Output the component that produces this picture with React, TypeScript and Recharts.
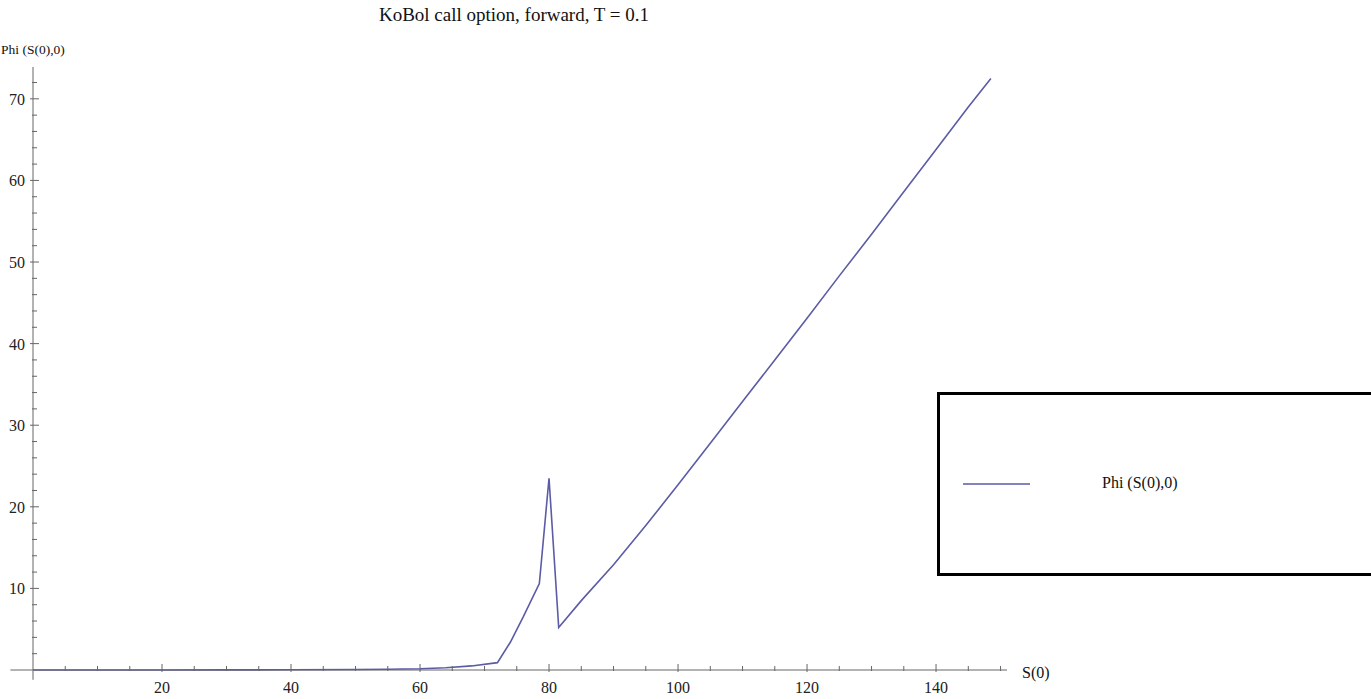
import React from "react";
import { LineChart, Line, XAxis, YAxis, ReferenceLine, Legend } from "recharts";

// S(0) sample points and the option value
const sValues = [
  0, 10, 20, 30, 40, 50, 55, 60, 64, 68, 72, 74, 76, 78.5, 80, 81.5, 85, 90,
  95, 100, 105, 110, 115, 120, 125, 130, 135, 140, 145, 148.5,
];
const phiValues = [
  0, 0, 0, 0.01, 0.03, 0.06, 0.1, 0.16, 0.28, 0.5, 0.9, 3.4, 6.5, 10.6, 23.5,
  5.2, 8.5, 12.9, 17.7, 22.7, 27.8, 32.9, 38.0, 43.1, 48.3, 53.4, 58.6, 63.8,
  69.0, 72.5,
];

const xTicks = [
  5, 10, 15, 20, 25, 30, 35, 40, 45, 50, 55, 60, 65, 70, 75, 80, 85, 90, 95,
  100, 105, 110, 115, 120, 125, 130, 135, 140, 145, 150,
];
const xLabels = [20, 40, 60, 80, 100, 120, 140];
const yTicks = [
  2, 4, 6, 8, 10, 12, 14, 16, 18, 20, 22, 24, 26, 28, 30, 32, 34, 36, 38, 40,
  42, 44, 46, 48, 50, 52, 54, 56, 58, 60, 62, 64, 66, 68, 70, 72,
];
const yLabels = [10, 20, 30, 40, 50, 60, 70];

const title = "KoBol call option, forward, T = 0.1";
const seriesName = "Phi (S(0),0)";

const data = sValues.map((s, i) => ({ s, phi: phiValues[i] }));

const FONT = "'Liberation Serif', 'DejaVu Serif', serif";
const AXIS = "#666";
const LINE = "#5b5ba6";

const XTick = (props: any) => {
  const { x, y, payload } = props;
  const major = xLabels.includes(payload.value);
  return (
    <g>
      <line x1={x} x2={x} y1={y - (major ? 6 : 4)} y2={y + (major ? 2 : 1)} stroke={AXIS} />
      {major && (
        <text x={x} y={y + 23} textAnchor="middle" fontFamily={FONT} fontSize={16} fill="#222">
          {payload.value}
        </text>
      )}
    </g>
  );
};

const YTick = (props: any) => {
  const { x, y, payload } = props;
  const major = yLabels.includes(payload.value);
  return (
    <g>
      <line x1={x - (major ? 3 : 1)} x2={x + (major ? 6 : 4)} y1={y} y2={y} stroke={AXIS} />
      {major && (
        <text x={x - 8} y={y + 6} textAnchor="end" fontFamily={FONT} fontSize={16} fill="#222">
          {payload.value}
        </text>
      )}
    </g>
  );
};

const renderLegend = (props: any) => {
  const item = props.payload && props.payload[0];
  return (
    <div
      style={{
        boxSizing: "border-box",
        width: 460,
        height: 184,
        border: "3px solid #000",
        background: "#fff",
        position: "relative",
      }}
    >
      <svg style={{ position: "absolute", left: 23, top: 87 }} width={70} height={4}>
        <line x1={0} x2={67} y1={2} y2={2} stroke={item ? item.color : LINE} strokeWidth={1.6} />
      </svg>
      <span
        style={{
          position: "absolute",
          left: 162,
          top: 79,
          fontFamily: FONT,
          fontSize: 16,
          lineHeight: "18px",
          color: "#111",
        }}
      >
        {item ? item.value : seriesName}
      </span>
    </div>
  );
};

export default function App() {
  return (
    <div
      style={{
        position: "absolute",
        left: 0,
        top: 0,
        width: 1371,
        height: 699,
        overflow: "hidden",
        background: "#fff",
      }}
    >
      <LineChart
        width={1371}
        height={699}
        data={data}
        margin={{ top: 67, right: 364, bottom: 0, left: 0 }}
      >
        <XAxis
          type="number"
          dataKey="s"
          domain={[0, 151]}
          ticks={xTicks}
          interval={0}
          height={29}
          tickSize={0}
          tickMargin={0}
          tickLine={false}
          tick={<XTick />}
          stroke={AXIS}
        />
        <YAxis
          type="number"
          domain={[0, 73.9]}
          ticks={yTicks}
          interval={0}
          width={33}
          tickSize={0}
          tickMargin={0}
          tickLine={false}
          tick={<YTick />}
          stroke={AXIS}
        />
        <ReferenceLine
          segment={[{ x: -3.5, y: 0 }, { x: 0, y: 0 }]}
          ifOverflow="visible"
          stroke={AXIS}
        />
        <ReferenceLine
          segment={[{ x: 0, y: -1.2 }, { x: 0, y: 0 }]}
          ifOverflow="visible"
          stroke={AXIS}
        />
        <Legend
          content={renderLegend}
          layout="horizontal"
          verticalAlign="middle"
          align="center"
          wrapperStyle={{ left: 937, top: 392, width: 460, height: 184 }}
        />
        <Line
          type="linear"
          dataKey="phi"
          name={seriesName}
          stroke={LINE}
          strokeWidth={1.6}
          dot={false}
          isAnimationActive={false}
        />
      </LineChart>
      <svg
        width={1371}
        height={699}
        style={{ position: "absolute", left: 0, top: 0, pointerEvents: "none" }}
      >
        <text x={514} y={21} textAnchor="middle" fontFamily={FONT} fontSize={19} fill="#111">
          {title}
        </text>
        <text x={1} y={54} fontFamily={FONT} fontSize={13.5} fill="#111">
          {seriesName}
        </text>
        <text x={1022} y={678} fontFamily={FONT} fontSize={16} fill="#111">
          S(0)
        </text>
      </svg>
    </div>
  );
}
